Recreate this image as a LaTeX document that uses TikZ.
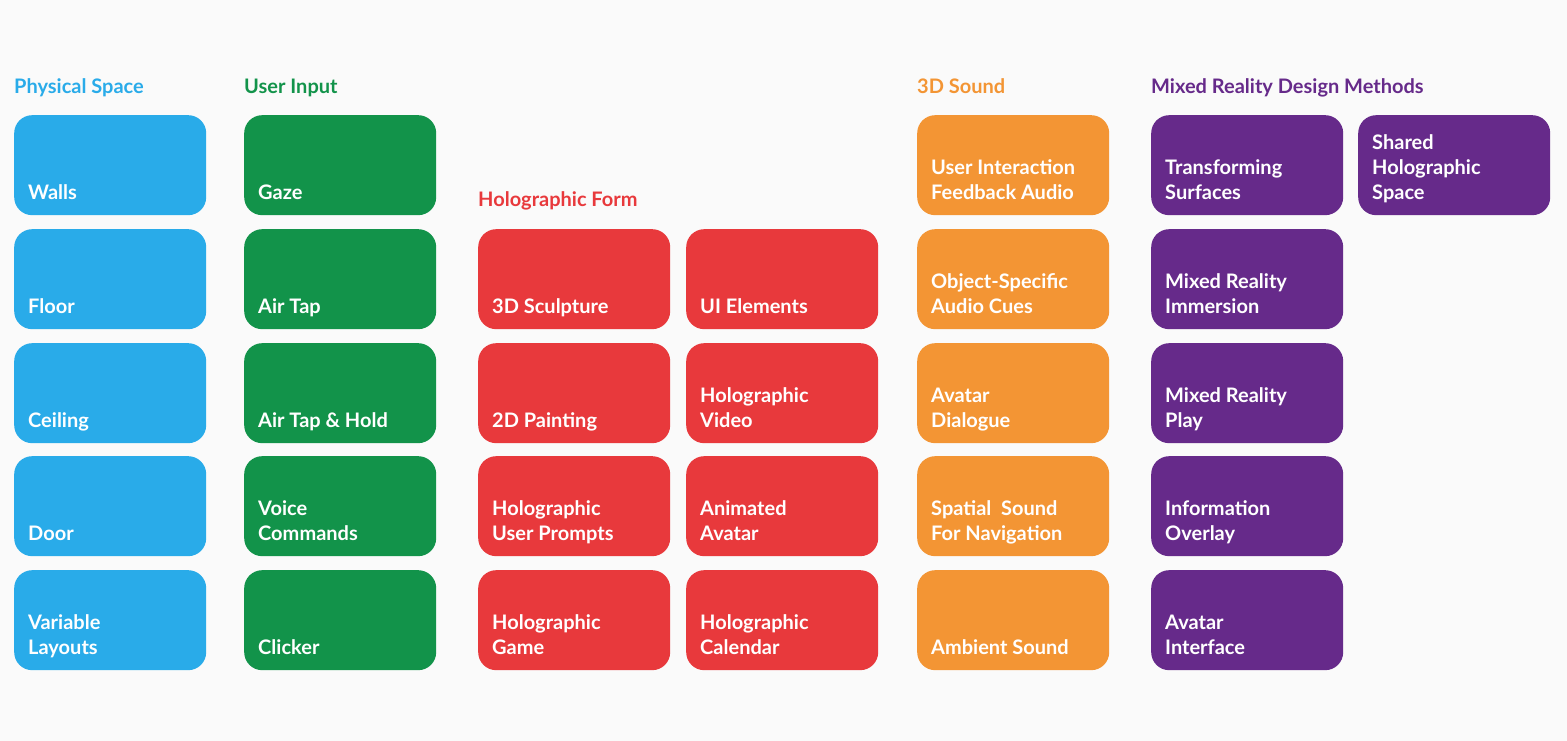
\documentclass[tikz,border=0pt]{standalone}
\usepackage{fontspec}
\setmainfont{Lato}
\definecolor{cblue}{HTML}{29ABE9}
\definecolor{cgreen}{HTML}{12934A}
\definecolor{cred}{HTML}{E8393C}
\definecolor{corange}{HTML}{F39534}
\definecolor{cpurple}{HTML}{662A8A}
\definecolor{bg}{HTML}{FAFAFA}
\tikzset{
  card/.style={fill=#1, draw=none, rounded corners=18pt, minimum width=192pt, minimum height=100pt, inner sep=0pt, anchor=north west},
  cardtext/.style={text=white, font=\bfseries\fontsize{20}{25}\selectfont, align=left, anchor=south west, inner sep=0pt, text depth=0pt},
  head/.style={text=#1, font=\bfseries\fontsize{20}{23}\selectfont, anchor=base west, inner sep=0pt}
}
\newcommand{\bx}[5]{%
  \node[card=#4] (#1) at (#2pt,{741pt-#3pt}) {};
  \node[cardtext] (#1t) at ([xshift=14pt,yshift=16pt]#1.south west) {#5};}
\begin{document}
\begin{tikzpicture}[x=1pt,y=1pt]
\fill[bg] (0,0) rectangle (1567,741);
\useasboundingbox (0,0) rectangle (1567,741);
\node[head=cblue] (h1) at (14,647) {Physical Space};
\node[head=cgreen] (h2) at (244,647) {User Input};
\node[head=cred] (h3) at (478,534) {Holographic Form};
\node[head=corange] (h4) at (917,647) {3D Sound};
\node[head=cpurple] (h5) at (1151,647) {Mixed Reality Design Methods};
\bx{a1}{14}{115}{cblue}{Walls}
\bx{a2}{14}{229}{cblue}{Floor}
\bx{a3}{14}{343}{cblue}{Ceiling}
\bx{a4}{14}{456}{cblue}{Door}
\bx{a5}{14}{570}{cblue}{Variable\\Layouts}
\bx{b1}{244}{115}{cgreen}{Gaze}
\bx{b2}{244}{229}{cgreen}{Air Tap}
\bx{b3}{244}{343}{cgreen}{Air Tap \& Hold}
\bx{b4}{244}{456}{cgreen}{Voice\\Commands}
\bx{b5}{244}{570}{cgreen}{Clicker}
\bx{c1}{478}{229}{cred}{3D Sculpture}
\bx{c2}{478}{343}{cred}{2D Painting}
\bx{c3}{478}{456}{cred}{Holographic\\User Prompts}
\bx{c4}{478}{570}{cred}{Holographic\\Game}
\bx{d1}{686}{229}{cred}{UI Elements}
\bx{d2}{686}{343}{cred}{Holographic\\Video}
\bx{d3}{686}{456}{cred}{Animated\\Avatar}
\bx{d4}{686}{570}{cred}{Holographic\\Calendar}
\bx{e1}{917}{115}{corange}{User Interaction\\Feedback Audio}
\bx{e2}{917}{229}{corange}{Object-Specific\\Audio Cues}
\bx{e3}{917}{343}{corange}{Avatar\\Dialogue}
\bx{e4}{917}{456}{corange}{Spatial\ \ Sound\\For Navigation}
\bx{e5}{917}{570}{corange}{Ambient Sound}
\bx{f1}{1151}{115}{cpurple}{Transforming\\Surfaces}
\bx{f2}{1151}{229}{cpurple}{Mixed Reality\\Immersion}
\bx{f3}{1151}{343}{cpurple}{Mixed Reality\\Play}
\bx{f4}{1151}{456}{cpurple}{Information\\Overlay}
\bx{f5}{1151}{570}{cpurple}{Avatar\\Interface}
\bx{g1}{1358}{115}{cpurple}{Shared\\Holographic\\Space}
\end{tikzpicture}
\end{document}
